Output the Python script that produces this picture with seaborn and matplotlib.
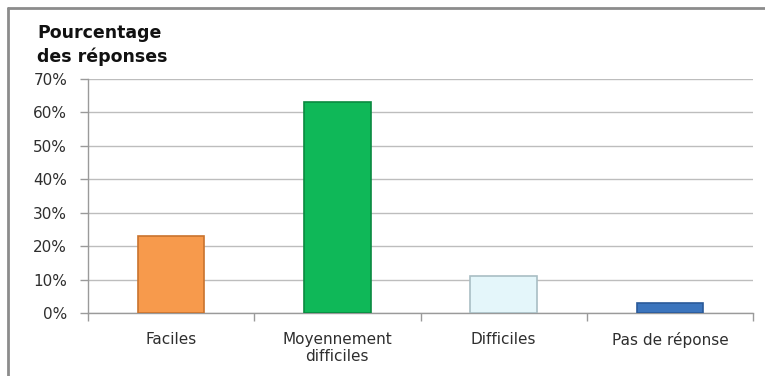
import matplotlib
matplotlib.use("Agg")
import matplotlib.pyplot as plt
import seaborn as sns
import pandas as pd
from matplotlib.lines import Line2D
from matplotlib.ticker import FuncFormatter

categories = ["Faciles", "Moyennement\ndifficiles", "Difficiles", "Pas de réponse"]
values = [23, 63, 11, 3]
colors = ["#F79A4C", "#0FB858", "#E4F6FA", "#3C75BD"]
edges = ["#C9732E", "#0A8A40", "#A9BEC4", "#2A5A99"]
y_ticks = [0, 10, 20, 30, 40, 50, 60, 70]

sns.set_theme(style="white")
plt.rcParams["font.family"] = ["DejaVu Sans"]

df = pd.DataFrame({"cat": categories, "val": values})

fig = plt.figure(figsize=(7.65, 3.76), dpi=100)
ax = fig.add_axes([88 / 765, 1 - 313 / 376, (753 - 88) / 765, (313 - 79) / 376])

sns.barplot(data=df, x="cat", y="val", hue="cat", palette=colors,
            width=0.4, legend=False, ax=ax, saturation=1)
for patch, ec in zip(ax.patches, edges):
    patch.set_edgecolor(ec)
    patch.set_linewidth(1.2)
    patch.set_zorder(3)

ax.set_xlim(-0.5, 3.5)
ax.set_ylim(0, 70)
ax.set_yticks(y_ticks)
ax.yaxis.set_major_formatter(FuncFormatter(lambda v, p: f"{int(v)}%"))
ax.grid(axis="y", color="#BDBDBD", linewidth=1.0, zorder=0)
ax.set_axisbelow(True)
ax.set_xlabel("")
ax.set_ylabel("")

for side in ["top", "right"]:
    ax.spines[side].set_visible(False)
for side in ["left", "bottom"]:
    ax.spines[side].set_color("#9A9A9A")
    ax.spines[side].set_linewidth(1.0)

ax.tick_params(axis="y", which="major", left=True, length=6, width=1, color="#9A9A9A",
               labelsize=11, labelcolor="#2E2E2E", pad=9)
ax.tick_params(axis="x", which="major", length=0, labelsize=11, labelcolor="#2E2E2E", pad=14)
ax.set_xticks([-0.5, 0.5, 1.5, 2.5, 3.5], minor=True)
ax.tick_params(axis="x", which="minor", bottom=True, length=6, width=1, color="#9A9A9A")
for lbl in ax.get_xticklabels():
    lbl.set_linespacing(1.15)

# axis title, two lines in bold
fig.text(37 / 765, 1 - 38 / 376, "Pourcentage", ha="left", va="baseline",
         fontsize=12.5, fontweight="bold", color="#111111")
fig.text(37 / 765, 1 - 62 / 376, "des réponses", ha="left", va="baseline",
         fontsize=12.5, fontweight="bold", color="#111111")

# outer frame of the chart area
fig.add_artist(Line2D([7.5 / 765, 7.5 / 765], [0, 1 - 7.5 / 376],
                      transform=fig.transFigure, color="#8C8C8C", linewidth=2))
fig.add_artist(Line2D([7.5 / 765, 1], [1 - 7.5 / 376, 1 - 7.5 / 376],
                      transform=fig.transFigure, color="#8C8C8C", linewidth=2))

fig.savefig("out.png", dpi=100)
